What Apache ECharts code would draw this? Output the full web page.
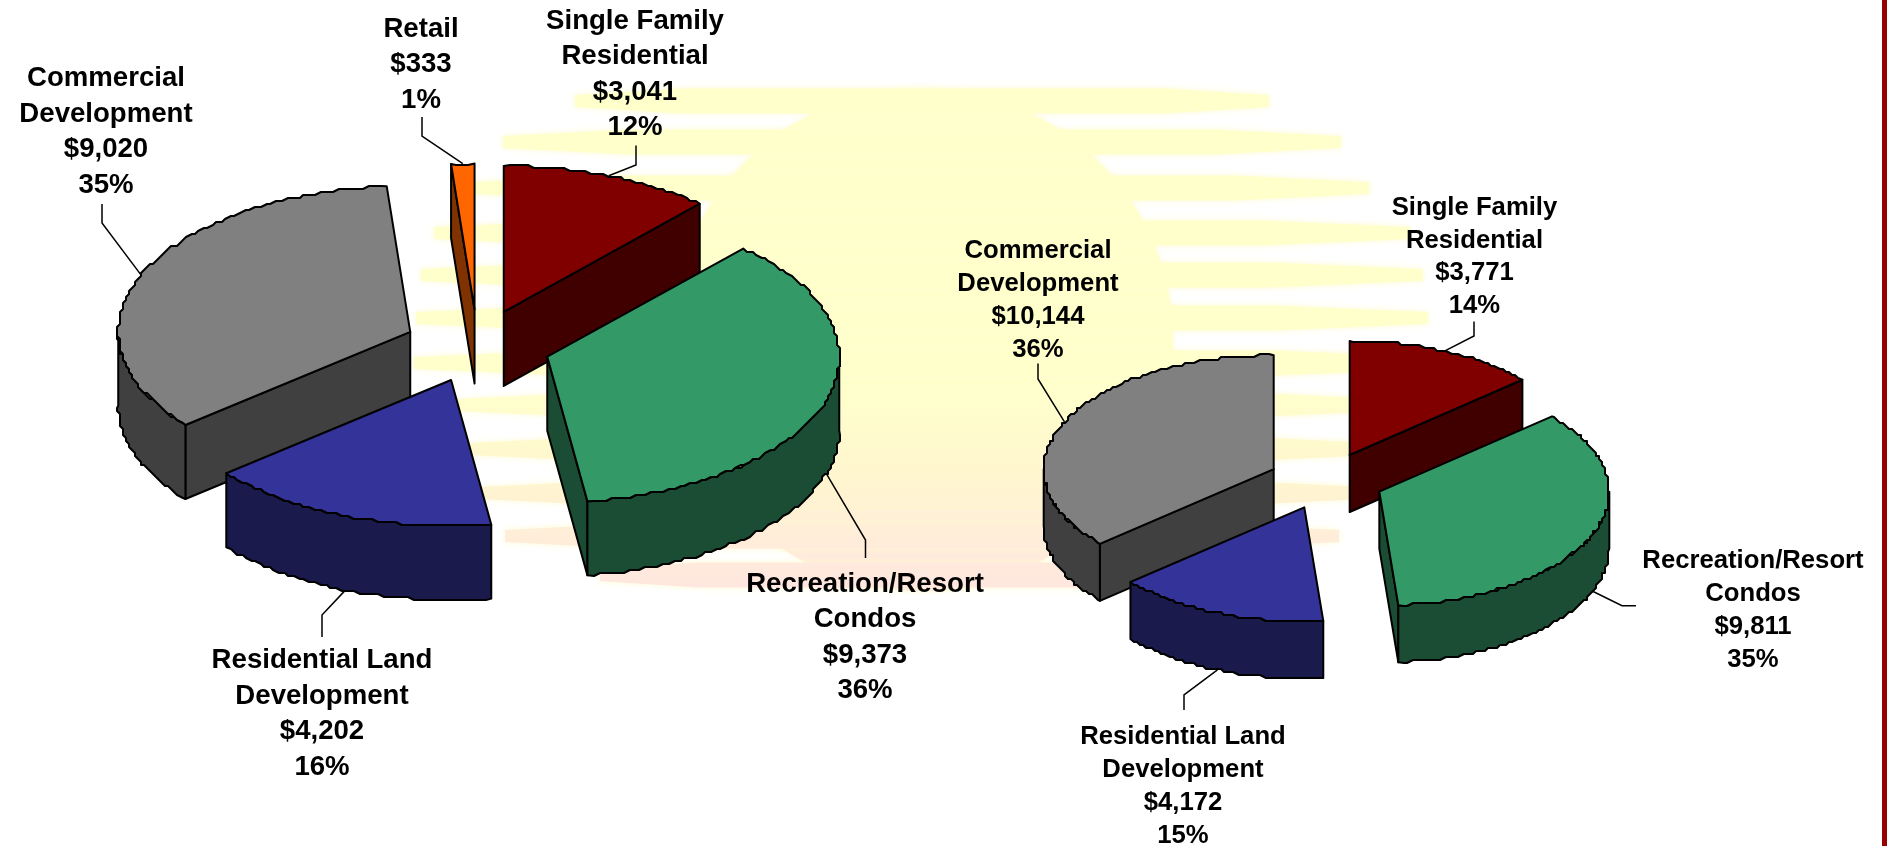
<!DOCTYPE html>
<html>
<head>
<meta charset="utf-8">
<title>Investment by category</title>
<style>
  html, body { margin: 0; padding: 0; background: #fff; }
  #main { width: 1887px; height: 846px; }
</style>
<script src="https://cdn.jsdelivr.net/npm/echarts@6/dist/echarts.min.js"></script>
</head>
<body>
<div id="main"></div>
<script>
// clockwise from 12 o'clock
const leftCategories = ['Single Family\nResidential', 'Recreation/Resort\nCondos', 'Residential Land\nDevelopment', 'Commercial\nDevelopment', 'Retail'];
const leftValues = [3041, 9373, 4202, 9020, 333];

const rightCategories = ['Single Family\nResidential', 'Recreation/Resort\nCondos', 'Residential Land\nDevelopment', 'Commercial\nDevelopment'];
const rightValues = [3771, 9811, 4172, 10144];

const topColors = ['#800000', '#339966', '#333399', '#808080', '#ff6600'];
const sideColors = ['#400000', '#1a4d33', '#1a1a4d', '#404040', '#803300'];

// where each pie sits, label centres and the leader elbows
const leftLayout = {
    cx: 477.5, cy: 346, rx: 292, ry: 146, depth: 74, explode: 0.25,
    fontSize: 27.6, lineHeight: 35.5,
    labelPos: [[635, 74.4], [865, 637.4], [322, 713.9], [106, 131.9], [421, 64.4]],
    leaders: [
        [[636, 165], [636, 145.5]],
        [[865.5, 540], [865.5, 558]],
        [[322, 615], [322, 637]],
        [[102, 223], [102, 204]],
        [[422, 136], [422, 117]]
    ]
};
const rightLayout = {
    cx: 1326, cy: 481, rx: 230, ry: 114, depth: 57, explode: 0.25,
    fontSize: 25.7, lineHeight: 32.7,
    labelPos: [[1474.5, 256.9], [1753, 610.4], [1183, 786.4], [1038, 300.4]],
    leaders: [
        [[1474, 336], [1474, 321.5]],
        [[1622, 605.7], [1636, 605.7]],
        [[1184, 695], [1184, 710]],
        [[1038, 379], [1038, 363.5]]
    ]
};

// background sun: band centre y and left end of each stripe, mirrored round the disc
const sunCenter = [922, 340];
const sunRadius = 251;
const sunBands = [[101, 575], [142, 503], [188, 475], [233, 434], [275, 421], [318, 416], [363, 414], [405, 458], [449, 470], [493, 480], [536, 505], [575, 600]];

function ellipsePoint(c, deg, dy) {
    const rad = deg * Math.PI / 180;
    return [c[0] + c[2] * Math.sin(rad), c[1] - c[3] * Math.cos(rad) + (dy || 0)];
}

// the rims of the original are stair stepped, snap the inner points to a coarse grid
function arcPoints(c, a0, a1, dy) {
    const pts = [];
    const n = Math.max(1, Math.ceil((a1 - a0) / 1.2));
    for (let i = 0; i <= n; i++) {
        const p = ellipsePoint(c, a0 + (a1 - a0) * i / n, dy);
        if (i > 0 && i < n) {
            p[0] = Math.round(p[0] / 3) * 3;
            p[1] = Math.round(p[1] / 3) * 3;
        }
        pts.push(p);
    }
    return pts;
}

function face(points, fill, width) {
    return {
        type: 'polygon',
        shape: { points: points },
        style: { fill: fill, stroke: '#000', lineWidth: width, lineJoin: 'round' }
    };
}

function pieSeries(categories, values, layout) {
    const total = values.reduce(function (a, b) { return a + b; }, 0);
    let acc = 0;
    const rows = values.map(function (v, i) {
        const start = acc / total * 360;
        acc += v;
        const end = acc / total * 360;
        const mid = (start + end) / 2;
        const rad = mid * Math.PI / 180;
        // exploded slice apex, back slices are drawn first
        const ax = layout.cx + layout.explode * layout.rx * Math.sin(rad);
        const ay = layout.cy - layout.explode * layout.ry * Math.cos(rad);
        return [i, v, start, end, ax, ay];
    }).sort(function (a, b) { return a[5] - b[5]; });

    return {
        type: 'custom',
        coordinateSystem: 'none',
        silent: true,
        animation: false,
        data: rows,
        renderItem: function (params, api) {
            const i = api.value(0);
            const value = api.value(1);
            const start = api.value(2);
            const end = api.value(3);
            const apex = [api.value(4), api.value(5)];
            const c = [apex[0], apex[1], layout.rx, layout.ry];
            const d = layout.depth;
            const children = [];

            // cut faces, only the ones turned to the viewer
            [[start, -90], [end, 90]].forEach(function (edge) {
                if (Math.cos((edge[0] + edge[1]) * Math.PI / 180) < -0.001) {
                    const p = ellipsePoint(c, edge[0]);
                    children.push(face([apex, p, [p[0], p[1] + d], [apex[0], apex[1] + d]], sideColors[i], 2));
                }
            });
            // outer rim, front half of the ellipse only
            const r0 = Math.max(start, 90);
            const r1 = Math.min(end, 270);
            if (r1 > r0) {
                const rim = arcPoints(c, r0, r1, 0).concat(arcPoints(c, r0, r1, d).reverse());
                children.push(face(rim, sideColors[i], 2));
            }
            // top
            children.push(face([apex].concat(arcPoints(c, start, end, 0)), topColors[i], 2));

            // leader from the rim at the middle of the slice
            const mid = (start + end) / 2;
            const inFront = mid > 90 && mid < 270;
            const attach = ellipsePoint(c, mid, inFront ? d : 0);
            children.push({
                type: 'polyline',
                shape: { points: [attach].concat(layout.leaders[i]) },
                style: { fill: null, stroke: '#000', lineWidth: 1.5 }
            });

            const pct = Math.round(value / total * 100);
            children.push({
                type: 'text',
                style: {
                    x: layout.labelPos[i][0],
                    y: layout.labelPos[i][1],
                    text: categories[i] + '\n$' + value.toLocaleString('en-US') + '\n' + pct + '%',
                    fill: '#000',
                    fontFamily: '"Liberation Sans", Arial, sans-serif',
                    fontWeight: 'bold',
                    fontSize: layout.fontSize,
                    lineHeight: layout.lineHeight,
                    align: 'center',
                    verticalAlign: 'middle'
                }
            });
            return { type: 'group', children: children };
        }
    };
}

function sunGraphics() {
    const fill = new echarts.graphic.LinearGradient(0, 89, 0, 591, [
        { offset: 0, color: '#ffffcc' },
        { offset: 0.6, color: '#ffffcc' },
        { offset: 0.78, color: '#fff5cf' },
        { offset: 0.88, color: '#ffeed8' },
        { offset: 1, color: '#ffe6e0' }
    ], true);
    const soft = { fill: fill, shadowBlur: 6, shadowColor: 'rgba(255,250,205,0.9)' };
    const items = [{
        type: 'circle',
        shape: { cx: sunCenter[0], cy: sunCenter[1], r: sunRadius },
        style: soft
    }];
    sunBands.forEach(function (b) {
        const xr = 2 * sunCenter[0] - b[1];
        const thickTo = (sunCenter[0] - b[1]) * 0.3;
        items.push({
            type: 'polygon',
            shape: {
                points: [
                    [b[1], b[0] - 6], [b[1] + thickTo, b[0] - 12.5], [xr - thickTo, b[0] - 12.5], [xr, b[0] - 6],
                    [xr, b[0] + 6], [xr - thickTo, b[0] + 12.5], [b[1] + thickTo, b[0] + 12.5], [b[1], b[0] + 6]
                ]
            },
            style: soft
        });
    });
    // red edge of the slide
    items.push({
        type: 'rect',
        shape: { x: 1882, y: 0, width: 5, height: 846 },
        style: { fill: '#990000' }
    });
    return items;
}

const chart = echarts.init(document.getElementById('main'), null, { renderer: 'canvas' });
chart.setOption({
    backgroundColor: '#fff',
    animation: false,
    graphic: { elements: sunGraphics() },
    series: [
        pieSeries(leftCategories, leftValues, leftLayout),
        pieSeries(rightCategories, rightValues, rightLayout)
    ]
});
</script>
</body>
</html>
